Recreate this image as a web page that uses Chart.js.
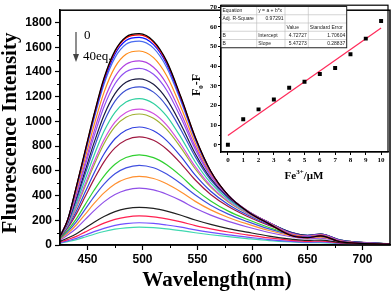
<!DOCTYPE html>
<html>
<head>
<meta charset="utf-8">
<script src="https://cdn.jsdelivr.net/npm/chart.js@4.4.0/dist/chart.umd.min.js"></script>
<style>
  html, body { margin: 0; padding: 0; background: #fff; }
  #wrap { position: relative; width: 392px; height: 293px; }
  #main { position: absolute; left: 0; top: 0; }
  #inset { position: absolute; left: 190px; top: 0; }
</style>
</head>
<body>
<div id="wrap">
  <canvas id="main" width="392" height="293"></canvas>
  <canvas id="inset" width="202" height="185"></canvas>
</div>
<script>
// emission spectra, 0 -> 40 eq. (top to bottom)
var wavelength = [425, 432, 440, 448, 456, 465, 475, 485, 497, 510, 522, 535, 548, 562, 578, 595, 615, 635, 650, 662, 680, 725];

var curve01 = [68, 205, 479, 770, 1060, 1351, 1573, 1684, 1710, 1650, 1488, 1197, 872, 599, 402, 274, 171, 77, 60, 74, 26, 7];
var curve02 = [68, 204, 476, 765, 1054, 1343, 1564, 1675, 1700, 1641, 1480, 1191, 869, 597, 402, 274, 171, 78, 60, 74, 26, 7];
var curve03 = [69, 204, 471, 756, 1041, 1326, 1544, 1654, 1680, 1621, 1463, 1179, 862, 595, 402, 275, 173, 80, 62, 75, 27, 7];
var curve04 = [70, 202, 463, 743, 1022, 1301, 1516, 1624, 1650, 1593, 1437, 1161, 852, 591, 402, 277, 174, 82, 64, 77, 28, 7];
var curve05 = [71, 198, 442, 707, 971, 1235, 1439, 1543, 1570, 1516, 1370, 1113, 824, 580, 400, 279, 178, 88, 68, 81, 31, 8];
var curve06 = [72, 194, 421, 671, 920, 1169, 1362, 1462, 1490, 1439, 1303, 1064, 796, 568, 397, 280, 181, 93, 72, 84, 34, 8];
var curve07 = [73, 189, 406, 644, 881, 1119, 1305, 1402, 1430, 1381, 1252, 1027, 773, 557, 394, 280, 181, 96, 74, 86, 35, 9];
var curve08 = [73, 183, 383, 605, 828, 1050, 1225, 1317, 1345, 1300, 1180, 973, 739, 540, 387, 278, 182, 100, 77, 88, 37, 9];
var curve09 = [72, 178, 365, 576, 787, 997, 1164, 1252, 1280, 1237, 1124, 931, 713, 525, 380, 275, 181, 102, 78, 89, 39, 9];
var curve10 = [71, 170, 340, 533, 727, 920, 1074, 1157, 1185, 1146, 1043, 869, 672, 502, 368, 269, 178, 103, 79, 89, 40, 9];
var curve11 = [70, 162, 317, 495, 673, 852, 995, 1073, 1100, 1064, 970, 813, 634, 479, 355, 262, 174, 103, 79, 89, 40, 9];
var curve12 = [69, 158, 306, 477, 648, 820, 958, 1033, 1060, 1025, 935, 786, 615, 468, 348, 258, 172, 103, 79, 88, 40, 9];
var curve13 = [66, 147, 277, 430, 583, 736, 860, 929, 955, 924, 845, 715, 565, 435, 328, 245, 165, 101, 77, 86, 40, 9];
var curve14 = [63, 138, 254, 394, 533, 673, 786, 850, 875, 847, 775, 659, 526, 409, 311, 233, 158, 98, 75, 83, 39, 9];
var curve15 = [57, 120, 214, 329, 443, 558, 653, 708, 730, 707, 649, 557, 450, 356, 274, 208, 142, 90, 69, 76, 36, 8];
var curve16 = [52, 108, 189, 290, 391, 492, 576, 624, 645, 625, 574, 495, 404, 322, 250, 191, 130, 84, 64, 70, 34, 7];
var curve17 = [47, 95, 164, 250, 336, 422, 494, 536, 555, 538, 495, 429, 353, 284, 223, 171, 117, 76, 58, 64, 31, 7];
var curve18 = [40, 81, 136, 207, 278, 349, 408, 444, 460, 446, 411, 359, 297, 242, 191, 147, 101, 67, 51, 55, 27, 6];
var curve19 = [29, 56, 91, 137, 184, 230, 270, 294, 305, 296, 274, 241, 202, 167, 133, 104, 72, 48, 37, 40, 20, 4];
var curve20 = [23, 44, 70, 106, 141, 177, 207, 226, 235, 228, 211, 187, 157, 131, 105, 82, 57, 38, 29, 32, 16, 3];
var curve21 = [18, 34, 54, 81, 108, 135, 159, 173, 180, 175, 162, 144, 122, 102, 82, 64, 44, 30, 23, 25, 12, 3];
var curve22 = [15, 28, 44, 65, 87, 109, 128, 139, 145, 141, 131, 116, 99, 83, 67, 52, 36, 25, 19, 20, 10, 2];

var spectra = [curve01, curve02, curve03, curve04, curve05, curve06, curve07, curve08, curve09, curve10, curve11,
               curve12, curve13, curve14, curve15, curve16, curve17, curve18, curve19, curve20, curve21, curve22];
var curveColors = ['#000000', '#ff0000', '#1010ff', '#4a6cf0', '#ff8c1a', '#b040e0', '#9050f0', '#1a1a40',
                   '#3a4fd0', '#30d0a0', '#d050e0', '#a0b030', '#3040e0', '#a01840', '#30d030', '#4050e0',
                   '#ff9030', '#9050e8', '#202020', '#ff2050', '#7050ff', '#40d8b0'];

var xTicksMain = [450, 500, 550, 600, 650, 700];
var yTicksMain = [0, 200, 400, 600, 800, 1000, 1200, 1400, 1600, 1800];

// inset: F0-F vs Fe3+
var feConc = [0, 1, 2, 3, 4, 5, 6, 7, 8, 9, 10];
var quench = [0, 13, 18, 23, 29, 32, 36, 39, 46, 54, 63];
var fitX = [0, 10];
var fitY = [4.73, 59.45];
var yTicksInset = [0, 10, 20, 30, 40, 50, 60, 70];

var tableRows = [
  ['Equation', 'y = a + b*x', '', ''],
  ['Adj. R-Square', '0.97291', '', ''],
  ['', '', 'Value', 'Standard Error'],
  ['B', 'Intercept', '4.72727', '1.70604'],
  ['B', 'Slope', '5.47273', '0.28837']
];

function plainLabel(v) { return String(v); }

function minorTicks(chart, xs, ys, len) {
  var ctx = chart.ctx, a = chart.chartArea;
  var sx = chart.scales.x, sy = chart.scales.y;
  ctx.save();
  ctx.strokeStyle = '#000';
  ctx.lineWidth = 1;
  ctx.beginPath();
  xs.forEach(function (v) {
    var px = Math.round(sx.getPixelForValue(v)) + 0.5;
    ctx.moveTo(px, a.bottom); ctx.lineTo(px, a.bottom + len);
  });
  ys.forEach(function (v) {
    var py = Math.round(sy.getPixelForValue(v)) + 0.5;
    ctx.moveTo(a.left, py); ctx.lineTo(a.left - len, py);
  });
  ctx.stroke();
  ctx.restore();
}

var mainDecor = {
  id: 'mainDecor',
  afterDraw: function (chart) {
    var ctx = chart.ctx, a = chart.chartArea;
    ctx.save();
    ctx.strokeStyle = '#000';
    ctx.lineWidth = 1.5;
    ctx.strokeRect(a.left, a.top, a.right - a.left, a.bottom - a.top);
    ctx.restore();
    minorTicks(chart, [475, 525, 575, 625, 675], [100, 300, 500, 700, 900, 1100, 1300, 1500, 1700], 3);

    ctx.save();
    ctx.fillStyle = '#000';
    ctx.font = 'bold 21px "Liberation Serif"';
    ctx.textAlign = 'center';
    ctx.textBaseline = 'middle';
    ctx.fillText('Wavelength(nm)', 217, 281);
    ctx.translate(11, 133);
    ctx.rotate(-Math.PI / 2);
    ctx.fillText('Fluorescence Intensity', 0, 0);
    ctx.restore();

    // arrow 0 -> 40eq.
    ctx.save();
    ctx.strokeStyle = '#444';
    ctx.fillStyle = '#444';
    ctx.lineWidth = 1.2;
    ctx.beginPath();
    ctx.moveTo(76, 32); ctx.lineTo(76, 55);
    ctx.stroke();
    ctx.beginPath();
    ctx.moveTo(73, 54); ctx.lineTo(79, 54); ctx.lineTo(76, 62); ctx.closePath();
    ctx.fill();
    ctx.fillStyle = '#000';
    ctx.font = '13px "Liberation Serif"';
    ctx.textBaseline = 'middle';
    ctx.fillText('0', 84, 36);
    ctx.fillText('40eq.', 83, 57);
    ctx.restore();
  }
};

var mainDatasets = spectra.map(function (ys, i) {
  return {
    data: ys.map(function (y, j) { return { x: wavelength[j], y: y }; }),
    borderColor: curveColors[i],
    borderWidth: 1.2,
    pointRadius: 0,
    cubicInterpolationMode: 'monotone',
    fill: false
  };
});

new Chart(document.getElementById('main'), {
  type: 'line',
  data: { datasets: mainDatasets },
  options: {
    responsive: false,
    animation: false,
    layout: { padding: { top: 2, right: 2, left: 0, bottom: 0 } },
    plugins: { legend: { display: false }, tooltip: { enabled: false } },
    scales: {
      x: {
        type: 'linear', min: 425, max: 725,
        afterFit: function (s) { s.height = 48; },
        afterBuildTicks: function (s) { s.ticks = xTicksMain.map(function (v) { return { value: v }; }); },
        ticks: { callback: plainLabel, font: { family: 'Liberation Sans', size: 12, weight: 'bold' }, color: '#000', padding: 2, maxRotation: 0 },
        grid: { drawOnChartArea: false, tickLength: 5, tickColor: '#000', tickWidth: 1.2 },
        border: { color: '#000', width: 1.5 }
      },
      y: {
        min: 0, max: 1900,
        afterFit: function (s) { s.width = 60; },
        afterBuildTicks: function (s) { s.ticks = yTicksMain.map(function (v) { return { value: v }; }); },
        ticks: { callback: plainLabel, font: { family: 'Liberation Sans', size: 12, weight: 'bold' }, color: '#000', padding: 3 },
        grid: { drawOnChartArea: false, tickLength: 5, tickColor: '#000', tickWidth: 1.2 },
        border: { color: '#000', width: 1.5 }
      }
    }
  },
  plugins: [mainDecor]
});

var insetDecor = {
  id: 'insetDecor',
  afterDraw: function (chart) {
    var ctx = chart.ctx, a = chart.chartArea;
    ctx.save();
    ctx.strokeStyle = '#000';
    ctx.lineWidth = 1.2;
    ctx.strokeRect(a.left, a.top, a.right - a.left, a.bottom - a.top);
    ctx.restore();
    minorTicks(chart, [], [5, 15, 25, 35, 45, 55, 65], 2);

    // table
    var cols = [a.left, 66.7, 95, 118.3, 156.7];
    var top = 6.5, rh = 8.25;
    ctx.save();
    ctx.fillStyle = '#fff';
    ctx.fillRect(cols[0], top, cols[4] - cols[0], rh * 5);
    ctx.strokeStyle = '#b8b8b8';
    ctx.lineWidth = 0.6;
    ctx.beginPath();
    for (var r = 1; r < 5; r++) { ctx.moveTo(cols[0], top + r * rh); ctx.lineTo(cols[4], top + r * rh); }
    for (var c = 1; c < 4; c++) { ctx.moveTo(cols[c], top); ctx.lineTo(cols[c], top + 5 * rh); }
    ctx.stroke();
    ctx.strokeStyle = '#222';
    ctx.lineWidth = 1;
    ctx.strokeRect(cols[0], top, cols[4] - cols[0], rh * 5);
    ctx.fillStyle = '#222';
    ctx.font = '5px "Liberation Sans"';
    ctx.textBaseline = 'middle';
    tableRows.forEach(function (row, ri) {
      var y = top + ri * rh + rh / 2;
      row.forEach(function (txt, ci) {
        if (!txt) return;
        var right = /^[0-9.]+$/.test(txt);
        if (right) { ctx.textAlign = 'right'; ctx.fillText(txt, cols[ci + 1] - 1.5, y); }
        else { ctx.textAlign = 'left'; ctx.fillText(txt, cols[ci] + 1.5, y); }
      });
    });
    ctx.restore();

    // axis titles
    ctx.save();
    ctx.fillStyle = '#000';
    ctx.textBaseline = 'alphabetic';
    ctx.font = 'bold 11px "Liberation Serif"';
    var w1 = ctx.measureText('Fe').width;
    ctx.font = 'bold 7px "Liberation Serif"';
    var w2 = ctx.measureText('3+').width;
    ctx.font = 'bold 11px "Liberation Serif"';
    var w3 = ctx.measureText('/\u03bcM').width;
    var x0 = 114 - (w1 + w2 + w3) / 2, yb = 179;
    ctx.fillText('Fe', x0, yb);
    ctx.font = 'bold 7px "Liberation Serif"';
    ctx.fillText('3+', x0 + w1, yb - 5);
    ctx.font = 'bold 11px "Liberation Serif"';
    ctx.fillText('/\u03bcM', x0 + w1 + w2, yb);

    ctx.translate(10, 85);
    ctx.rotate(-Math.PI / 2);
    ctx.font = 'bold 12px "Liberation Serif"';
    var f1 = ctx.measureText('F').width;
    ctx.font = 'bold 7px "Liberation Serif"';
    var f2 = ctx.measureText('0').width;
    ctx.font = 'bold 12px "Liberation Serif"';
    var f3 = ctx.measureText('-F').width;
    var s0 = -(f1 + f2 + f3) / 2;
    ctx.fillText('F', s0, 0);
    ctx.font = 'bold 7px "Liberation Serif"';
    ctx.fillText('0', s0 + f1, 3);
    ctx.font = 'bold 12px "Liberation Serif"';
    ctx.fillText('-F', s0 + f1 + f2, 0);
    ctx.restore();
  }
};

new Chart(document.getElementById('inset'), {
  type: 'scatter',
  data: {
    datasets: [
      {
        data: feConc.map(function (x, i) { return { x: x, y: quench[i] }; }),
        pointStyle: 'rect', pointRadius: 2.8,
        backgroundColor: '#000', borderColor: '#000', borderWidth: 0
      },
      {
        data: fitX.map(function (x, i) { return { x: x, y: fitY[i] }; }),
        showLine: true, borderColor: '#ff2a5a', borderWidth: 1.2, pointRadius: 0
      }
    ]
  },
  options: {
    responsive: false,
    animation: false,
    layout: { padding: { top: 3, right: 2, left: 0, bottom: 0 } },
    plugins: { legend: { display: false }, tooltip: { enabled: false } },
    scales: {
      x: {
        type: 'linear', min: -0.45, max: 10.45,
        afterFit: function (s) { s.height = 33; },
        afterBuildTicks: function (s) { s.ticks = feConc.map(function (v) { return { value: v }; }); },
        ticks: { callback: plainLabel, font: { family: 'Liberation Serif', size: 7, weight: 'bold' }, color: '#000', padding: 1, maxRotation: 0 },
        grid: { drawOnChartArea: false, tickLength: 3, tickColor: '#000', tickWidth: 1 },
        border: { color: '#000', width: 1.2 }
      },
      y: {
        min: -3.7, max: 71,
        afterFit: function (s) { s.width = 31; },
        afterBuildTicks: function (s) { s.ticks = yTicksInset.map(function (v) { return { value: v }; }); },
        ticks: { callback: plainLabel, font: { family: 'Liberation Serif', size: 7, weight: 'bold' }, color: '#000', padding: 1 },
        grid: { drawOnChartArea: false, tickLength: 3, tickColor: '#000', tickWidth: 1 },
        border: { color: '#000', width: 1.2 }
      }
    }
  },
  plugins: [insetDecor]
});
</script>
</body>
</html>
